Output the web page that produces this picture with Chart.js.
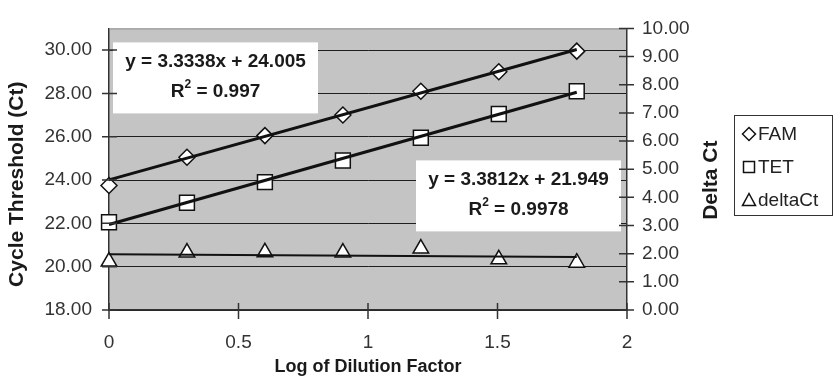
<!DOCTYPE html>
<html lang="en">
<head>
<meta charset="UTF-8" />
<title>Cycle Threshold vs Log of Dilution Factor</title>
<script src="https://cdn.jsdelivr.net/npm/chart.js"></script>
<style>
  html, body { margin: 0; padding: 0; background: #fff; }
  #wrap { width: 834px; height: 378px; position: relative; }
</style>
</head>
<body>
<div id="wrap"><canvas id="ctChart"></canvas></div>
<script>
const xValues = [0, 0.301, 0.602, 0.903, 1.204, 1.505, 1.806];
const famCt = [23.75, 25.05, 26.05, 27.0, 28.1, 29.0, 29.95];
const tetCt = [22.05, 22.95, 23.9, 24.9, 25.95, 27.05, 28.1];
const deltaCt = [1.72, 2.04, 2.05, 2.04, 2.18, 1.8, 1.68];

// slope, intercept and R² as printed on the chart
const famFit = [3.3338, 24.005];
const tetFit = [3.3812, 21.949];
const famEq = "y = 3.3338x + 24.005";
const famR2 = "0.997";
const tetEq = "y = 3.3812x + 21.949";
const tetR2 = "0.9978";

const leftTicks = [18, 20, 22, 24, 26, 28, 30];
const rightTicks = [0, 1, 2, 3, 4, 5, 6, 7, 8, 9, 10];
const xTicks = [0, 0.5, 1, 1.5, 2];
const seriesNames = ["FAM", "TET", "deltaCt"];

const FONT = "'Liberation Sans', Arial, sans-serif";

function fitLine(xs, ys) {
  const n = xs.length;
  const mx = xs.reduce((a, b) => a + b, 0) / n;
  const my = ys.reduce((a, b) => a + b, 0) / n;
  let sxy = 0, sxx = 0;
  for (let i = 0; i < n; i++) {
    sxy += (xs[i] - mx) * (ys[i] - my);
    sxx += (xs[i] - mx) * (xs[i] - mx);
  }
  const m = sxy / sxx;
  return [m, my - m * mx];
}

function trend(fit) {
  const x0 = xValues[0], x1 = xValues[xValues.length - 1];
  return [{ x: x0, y: fit[0] * x0 + fit[1] }, { x: x1, y: fit[0] * x1 + fit[1] }];
}

const pts = (ys) => xValues.map((x, i) => ({ x: x, y: ys[i] }));

function drawMarker(ctx, style, x, y, r) {
  ctx.beginPath();
  if (style === "diamond") {
    ctx.moveTo(x - r, y); ctx.lineTo(x, y - r); ctx.lineTo(x + r, y); ctx.lineTo(x, y + r);
  } else if (style === "square") {
    ctx.rect(x - r, y - r, 2 * r, 2 * r);
  } else {
    ctx.moveTo(x, y - r); ctx.lineTo(x + r, y + r * 0.85); ctx.lineTo(x - r, y + r * 0.85);
  }
  ctx.closePath();
  ctx.fillStyle = "#fff";
  ctx.fill();
  ctx.strokeStyle = "#111";
  ctx.lineWidth = 1.5;
  ctx.stroke();
}

// "R² = value" with a real superscript 2, centred on cx
function drawR2(ctx, value, cx, cy) {
  const big = "bold 19px " + FONT, small = "bold 12px " + FONT;
  const rest = " = " + value;
  ctx.font = big;
  const wR = ctx.measureText("R").width;
  const wRest = ctx.measureText(rest).width;
  ctx.font = small;
  const w2 = ctx.measureText("2").width;
  let x = cx - (wR + w2 + wRest) / 2;
  ctx.textAlign = "left";
  ctx.font = big;
  ctx.fillText("R", x, cy);
  x += wR;
  ctx.font = small;
  ctx.fillText("2", x, cy - 7);
  x += w2;
  ctx.font = big;
  ctx.fillText(rest, x, cy);
}

const extras = {
  id: "extras",
  beforeDraw(chart) {
    const { ctx, chartArea: a } = chart;
    ctx.save();
    ctx.fillStyle = "#c4c4c4";
    ctx.fillRect(a.left, a.top, a.right - a.left, a.bottom - a.top);
    ctx.restore();
  },
  beforeDatasetsDraw(chart) {
    const { ctx, chartArea: a } = chart;
    // trendline equation boxes
    const boxes = [
      { eq: famEq, r2: famR2, x: a.left + 4, y: a.top + 14, w: 205, h: 71 },
      { eq: tetEq, r2: tetR2, x: a.left + 307, y: a.top + 132, w: 205, h: 71 }
    ];
    ctx.save();
    boxes.forEach(b => {
      ctx.fillStyle = "#fff";
      ctx.fillRect(b.x, b.y, b.w, b.h);
      ctx.fillStyle = "#1a1a1a";
      ctx.font = "bold 19px " + FONT;
      ctx.textAlign = "center";
      ctx.textBaseline = "middle";
      const cx = b.x + b.w / 2;
      ctx.fillText(b.eq, cx, b.y + 19);
      drawR2(ctx, b.r2, cx, b.y + 49);
    });
    ctx.restore();
  },
  afterDraw(chart) {
    const { ctx, chartArea: a, scales } = chart;
    ctx.save();
    // top border of plot
    ctx.strokeStyle = "#8a8a8a";
    ctx.lineWidth = 1;
    ctx.beginPath();
    ctx.moveTo(a.left, a.top + 0.5); ctx.lineTo(a.right, a.top + 0.5);
    ctx.stroke();
    // crossing tick marks
    ctx.strokeStyle = "#333";
    ctx.lineWidth = 1.5;
    ctx.beginPath();
    leftTicks.forEach(v => {
      const y = scales.y.getPixelForValue(v);
      ctx.moveTo(a.left - 7, y); ctx.lineTo(a.left + 8, y);
    });
    rightTicks.forEach(v => {
      const y = scales.y1.getPixelForValue(v);
      ctx.moveTo(a.right - 8, y); ctx.lineTo(a.right + 7, y);
    });
    xTicks.forEach(v => {
      const x = scales.x.getPixelForValue(v);
      ctx.moveTo(x, a.bottom - 7); ctx.lineTo(x, a.bottom + 9);
    });
    ctx.stroke();

    // axis titles
    ctx.fillStyle = "#1a1a1a";
    ctx.textAlign = "center";
    ctx.textBaseline = "middle";
    ctx.font = "bold 18px " + FONT;
    ctx.fillText("Log of Dilution Factor", (a.left + a.right) / 2, 367);
    ctx.font = "bold 21px " + FONT;
    const midY = (a.top + a.bottom) / 2 + 15;
    ctx.save();
    ctx.translate(17, midY);
    ctx.rotate(-Math.PI / 2);
    ctx.fillText("Cycle Threshold (Ct)", 0, 0);
    ctx.restore();
    ctx.save();
    ctx.translate(711, midY - 4);
    ctx.rotate(-Math.PI / 2);
    ctx.fillText("Delta Ct", 0, 0);
    ctx.restore();

    // legend
    const lx = 734, ly = 115, lw = 98, lh = 100;
    ctx.strokeStyle = "#333";
    ctx.lineWidth = 1;
    ctx.strokeRect(lx + 0.5, ly + 0.5, lw, lh);
    const styles = ["diamond", "square", "triangle"];
    ctx.font = "19px " + FONT;
    ctx.textAlign = "left";
    seriesNames.forEach((name, i) => {
      const ry = ly + 19 + i * 33;
      drawMarker(ctx, styles[i], lx + 15, ry, i === 1 ? 5.5 : 6.5);
      ctx.fillStyle = "#222";
      ctx.fillText(name, lx + 24, ry + 1);
    });
    ctx.restore();
  }
};

const fixedSize = (w, h) => (scale) => {
  if (w !== null) scale.width = w;
  if (h !== null) scale.height = h;
};

new Chart(document.getElementById("ctChart"), {
  type: "scatter",
  data: {
    datasets: [
      { type: "line", data: trend(famFit), yAxisID: "y", borderColor: "#111", borderWidth: 3, pointRadius: 0, clip: false },
      { type: "line", data: trend(tetFit), yAxisID: "y", borderColor: "#111", borderWidth: 3, pointRadius: 0, clip: false },
      { type: "line", data: trend(fitLine(xValues, deltaCt)), yAxisID: "y1", borderColor: "#111", borderWidth: 2, pointRadius: 0, clip: false },
      { label: seriesNames[0], data: pts(famCt), yAxisID: "y", pointStyle: "rectRot", pointRadius: 8, pointBackgroundColor: "#fff", pointBorderColor: "#111", pointBorderWidth: 1.5, clip: false },
      { label: seriesNames[1], data: pts(tetCt), yAxisID: "y", pointStyle: "rect", pointRadius: 10.5, pointBackgroundColor: "#fff", pointBorderColor: "#111", pointBorderWidth: 1.5, clip: false },
      { label: seriesNames[2], data: pts(deltaCt), yAxisID: "y1", pointStyle: "triangle", pointRadius: 9, pointBackgroundColor: "#fff", pointBorderColor: "#111", pointBorderWidth: 1.5, clip: false }
    ]
  },
  options: {
    responsive: true,
    maintainAspectRatio: false,
    animation: false,
    layout: { padding: { top: 16, left: 0, right: 0, bottom: 0 } },
    plugins: { legend: { display: false }, tooltip: { enabled: false } },
    scales: {
      x: {
        type: "linear",
        min: 0, max: 2,
        afterBuildTicks: (s) => { s.ticks = xTicks.map(v => ({ value: v })); },
        afterFit: fixedSize(null, 68),
        grid: { display: false, drawTicks: false },
        border: { color: "#333", width: 1.5 },
        ticks: { padding: 21, color: "#333", font: { family: FONT, size: 19 }, maxRotation: 0, callback: v => String(v) }
      },
      y: {
        position: "left",
        min: 18, max: 31,
        afterBuildTicks: (s) => { s.ticks = leftTicks.map(v => ({ value: v })); },
        afterFit: fixedSize(109, null),
        grid: { color: "#1e1e1e", lineWidth: 1, drawTicks: false },
        border: { color: "#333", width: 1.5 },
        ticks: { padding: 17, color: "#333", font: { family: FONT, size: 19 }, callback: v => v.toFixed(2) }
      },
      y1: {
        position: "right",
        min: 0, max: 10,
        afterBuildTicks: (s) => { s.ticks = rightTicks.map(v => ({ value: v })); },
        afterFit: fixedSize(207, null),
        grid: { display: false, drawTicks: false },
        border: { color: "#333", width: 1.5 },
        ticks: { padding: 15, color: "#333", font: { family: FONT, size: 19 }, callback: v => v.toFixed(2) }
      }
    }
  },
  plugins: [extras]
});
</script>
</body>
</html>
